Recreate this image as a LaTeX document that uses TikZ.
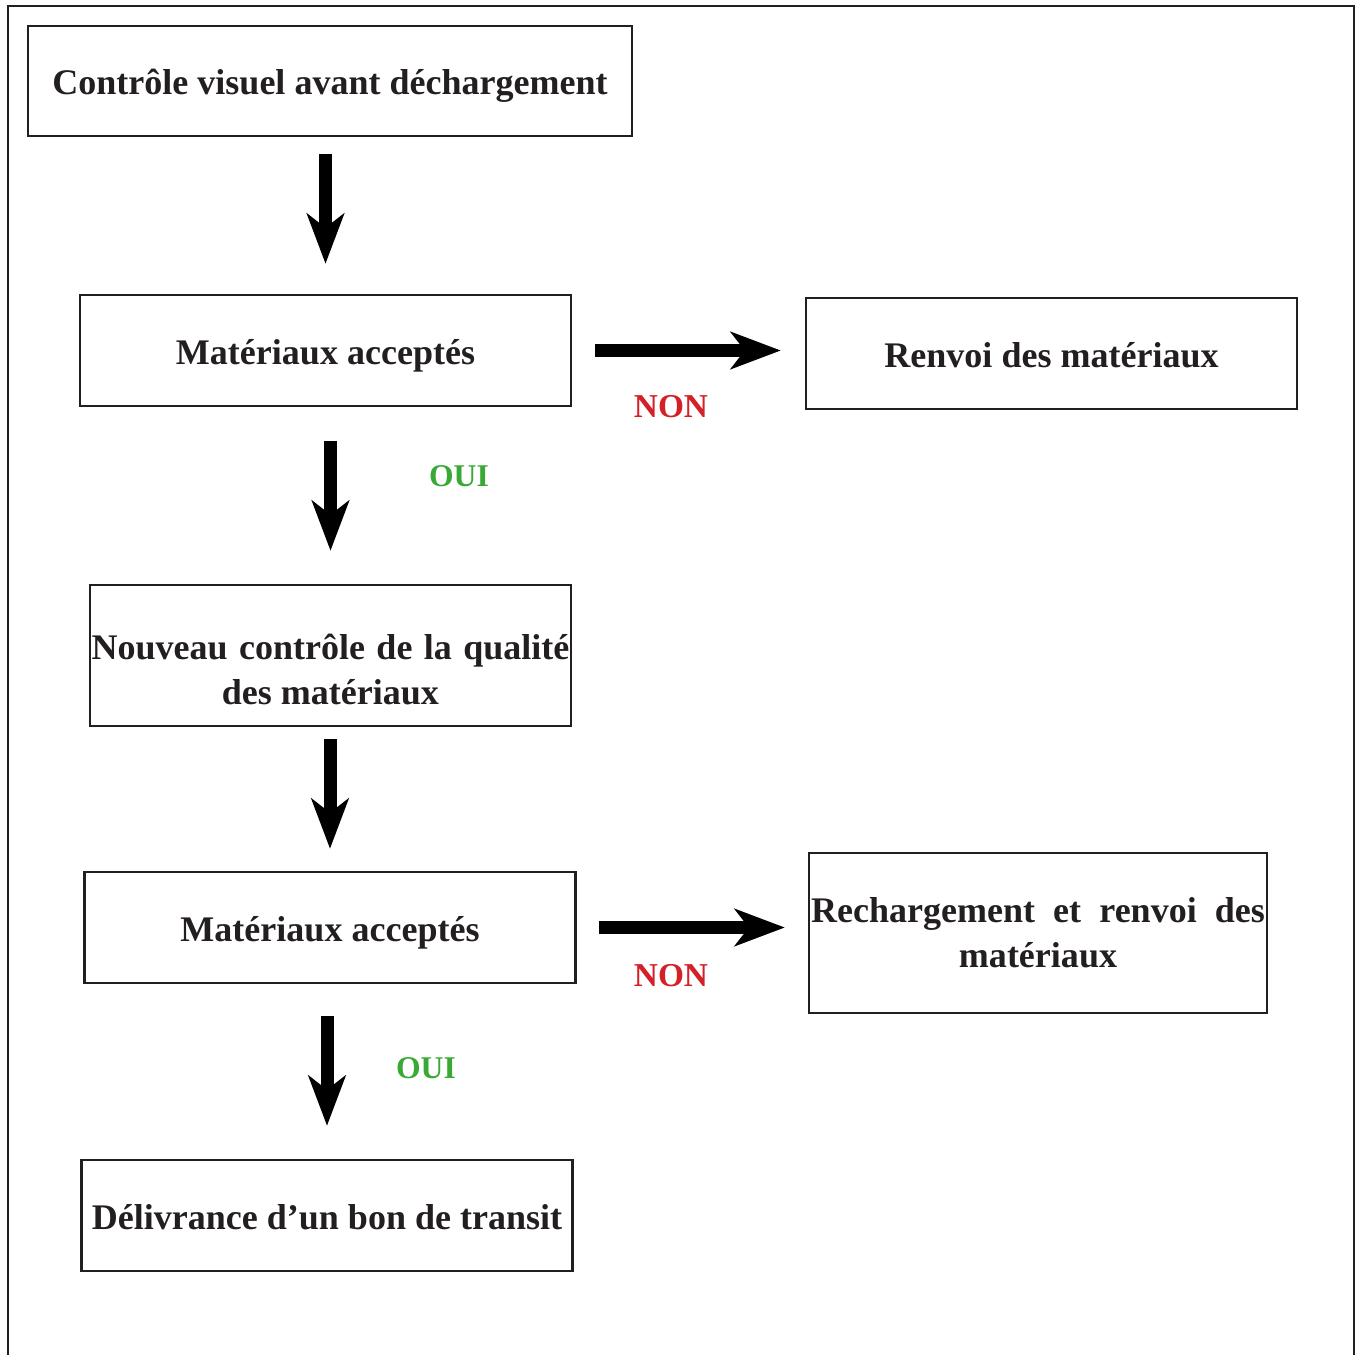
\documentclass[tikz,border=0pt]{standalone}
\usepackage{fontspec}
\setmainfont{Liberation Serif}
\usetikzlibrary{arrows.meta}
\definecolor{ink}{HTML}{231F20}
\definecolor{nonred}{RGB}{212,32,39}
\definecolor{ouigreen}{RGB}{57,169,53}

\begin{document}
\begin{tikzpicture}[x=0.02cm, y=-0.02cm,
    box/.style={draw=ink, line width=1.4pt, inner sep=0pt, align=center, text=ink,
      font=\fontsize{20.5}{25.5}\selectfont\bfseries},
    oneline/.style={text height=15.8pt, text depth=0pt},
    wide/.style={oneline, minimum width=9.82cm, minimum height=2.22cm},
    big/.style={black, line width=7.4pt, -{Stealth[length=1cm, width=0.74cm, inset=0.28cm]}},
    non/.style={text=nonred, font=\fontsize{19}{23}\selectfont\bfseries},
    oui/.style={text=ouigreen, font=\fontsize{18}{22}\selectfont\bfseries}]
  \useasboundingbox (0,0) rectangle (1359,1355);
  \draw [ink, line width=1.5pt] (8,1355) -- (8,6) -- (1354,6) -- (1354,1355);

  \node [box, oneline, minimum width=12.08cm, minimum height=2.2cm] (ctrl) at (330,81) {Contrôle visuel avant déchargement};
  \node [box, wide] (acc1) at (325.5,350.5) {Matériaux acceptés};
  \node [box, wide] (renv) at (1051.5,353.5) {Renvoi des matériaux};
  \node [box, minimum width=9.62cm, minimum height=2.82cm] (nouv) at (330.5,655.5)
    {\rule{0pt}{30pt}\makebox[9.56cm][s]{Nouveau contrôle de la qualité}\\des matériaux};
  \node [box, wide] (acc2) at (330,927.5) {Matériaux acceptés};
  \node [box, minimum width=9.16cm, minimum height=3.2cm] (rech) at (1038,933)
    {\makebox[9.08cm][s]{Rechargement et renvoi des}\\matériaux};
  \node [box, wide] (deli) at (327,1215.5) {Délivrance d’un bon de transit};

  \draw [big, shorten <=0.34cm, shorten >=0.6cm] (acc1.north |- ctrl.south) -- (acc1.north);
  \draw [big, shorten <=0.68cm, shorten >=0.66cm] (nouv.north |- acc1.south) -- (nouv.north);
  \draw [big, shorten <=0.24cm, shorten >=0.44cm] (acc2.north |- nouv.south) -- (acc2.north);
  \draw [big, shorten <=0.64cm, shorten >=0.66cm] (deli.north |- acc2.south) -- (deli.north);
  \draw [big, shorten <=0.46cm, shorten >=0.48cm] (acc1.east) -- (acc1.east -| renv.west);
  \draw [big, shorten <=0.44cm, shorten >=0.46cm] (acc2.east) -- (acc2.east -| rech.west);

  \node [non] (non1) at (671,407) {NON};
  \node [oui] (oui1) at (459,476) {OUI};
  \node [non] (non2) at (671,976) {NON};
  \node [oui] (oui2) at (426,1068) {OUI};
\end{tikzpicture}
\end{document}
